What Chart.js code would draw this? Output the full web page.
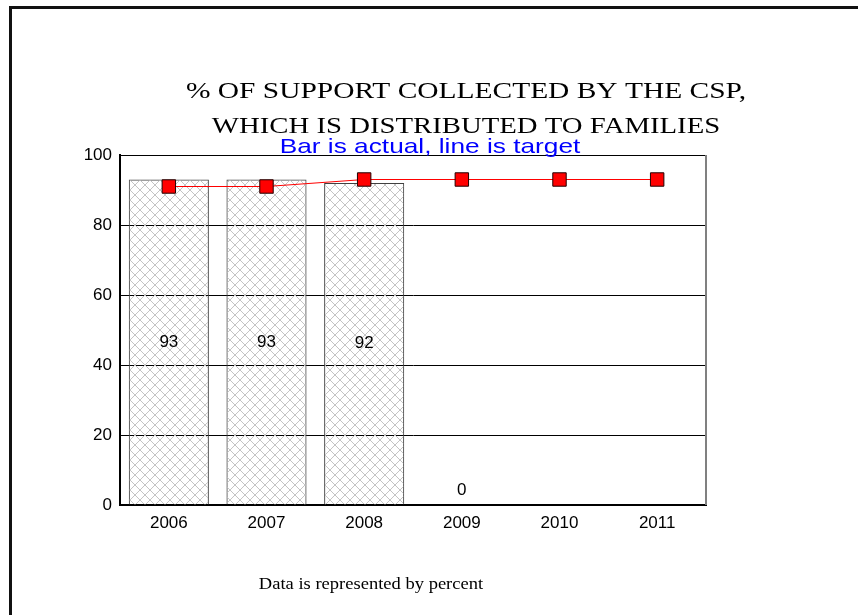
<!DOCTYPE html>
<html>
<head>
<meta charset="utf-8">
<script src="https://cdn.jsdelivr.net/npm/chart.js@4"></script>
<style>
  html, body { margin: 0; padding: 0; background: #fff; }
  #wrap { width: 858px; height: 615px; position: relative; }
</style>
</head>
<body>
<div id="wrap"><canvas id="c" width="858" height="615"></canvas></div>
<script>
// chart data
const years = ['2006', '2007', '2008', '2009', '2010', '2011'];
const actualValues = [93, 93, 92, 0, null, null];
const targetValues = [91, 91, 93, 93, 93, 93];
const yTicks = [0, 20, 40, 60, 80, 100];

const titleLines = ['% OF SUPPORT COLLECTED BY THE CSP,', 'WHICH IS DISTRIBUTED TO FAMILIES'];
const subTitle = 'Bar is actual, line is target';
const footNote = 'Data is represented by percent';

// crosshatch fill for the bars (transparent, so the grid shows through)
function makeHatch() {
    const p = document.createElement('canvas');
    p.width = 10; p.height = 10;
    const g = p.getContext('2d');
    g.strokeStyle = '#c4c4c4';
    g.lineWidth = 1;
    g.beginPath();
    g.moveTo(0, 0); g.lineTo(10, 10);
    g.moveTo(10, 0); g.lineTo(0, 10);
    g.stroke();
    return g.createPattern(p, 'repeat');
}
const ctx = document.getElementById('c').getContext('2d');
const hatch = makeHatch();

// text drawn with a horizontal stretch, like the original slide
function stretchText(c, text, x, y, sx) {
    c.save();
    c.translate(x, y);
    c.scale(sx, 1);
    c.fillText(text, 0, 0);
    c.restore();
}

// frame, titles and value labels
const decor = {
    id: 'decor',
    beforeDraw(chart) {
        const c = chart.ctx;
        c.save();
        c.fillStyle = '#fff';
        c.fillRect(0, 0, chart.width, chart.height);
        c.strokeStyle = '#111';
        c.lineWidth = 3;
        c.beginPath();
        c.moveTo(10.5, 620);
        c.lineTo(10.5, 7.5);
        c.lineTo(860, 7.5);
        c.stroke();
        c.restore();
    },
    afterDatasetsDraw(chart) {
        const c = chart.ctx;
        const a = chart.chartArea;
        c.save();
        // plot frame
        c.strokeStyle = '#000';
        c.lineWidth = 1;
        c.beginPath();
        c.moveTo(a.left, a.top + 0.5);
        c.lineTo(a.right - 0.5, a.top + 0.5);
        c.stroke();
        c.strokeStyle = '#808080';
        c.lineWidth = 2;
        c.beginPath();
        c.moveTo(a.right, a.top);
        c.lineTo(a.right, a.bottom);
        c.stroke();

        // bar value labels
        c.fillStyle = '#000';
        c.font = '17px "Liberation Sans", Arial, sans-serif';
        c.textAlign = 'center';
        c.textBaseline = 'middle';
        const meta = chart.getDatasetMeta(1);
        meta.data.forEach((el, i) => {
            const v = actualValues[i];
            if (v === null) return;
            const y = v > 0 ? (el.y + el.base) / 2 : el.base - 15;
            c.fillText(String(v), el.x, y);
        });

        // titles
        c.font = '23px "Liberation Serif", "Times New Roman", serif';
        stretchText(c, titleLines[0], 466, 92, 1.28);
        stretchText(c, titleLines[1], 466, 127, 1.25);
        c.fillStyle = '#0000ff';
        c.font = '21px "Liberation Sans", Arial, sans-serif';
        stretchText(c, subTitle, 430, 147, 1.25);
        c.fillStyle = '#000';
        c.font = '17px "Liberation Serif", "Times New Roman", serif';
        stretchText(c, footNote, 371, 585, 1.09);
        c.restore();
    }
};

new Chart(ctx, {
    data: {
        labels: years,
        datasets: [
            {
                type: 'line',
                label: 'Target',
                data: targetValues,
                borderColor: '#ff0000',
                borderWidth: 1,
                backgroundColor: '#ff0000',
                pointStyle: 'rect',
                pointRadius: 9.5,
                pointBorderColor: '#200000',
                pointBorderWidth: 1,
                tension: 0,
                order: 0
            },
            {
                type: 'bar',
                label: 'Actual',
                data: actualValues,
                backgroundColor: hatch,
                borderColor: '#404040',
                borderWidth: 1,
                barPercentage: 0.82,
                categoryPercentage: 1,
                order: 1
            }
        ]
    },
    options: {
        responsive: false,
        animation: false,
        layout: { padding: { left: 0, right: 152, top: 155, bottom: 80 } },
        plugins: {
            legend: { display: false },
            title: { display: false },
            tooltip: { enabled: false }
        },
        scales: {
            x: {
                grid: { display: false },
                border: { color: '#000', width: 2 },
                ticks: { color: '#000', font: { family: '"Liberation Sans", Arial, sans-serif', size: 17 }, padding: 0 },
                afterFit(s) { s.height = 30; }
            },
            y: {
                min: 0,
                max: 100,
                afterBuildTicks(s) { s.ticks = yTicks.map(v => ({ value: v })); },
                grid: { color: '#000', lineWidth: 1, drawTicks: false, drawOnChartArea: true },
                border: { color: '#000', width: 2 },
                ticks: { color: '#000', font: { family: '"Liberation Sans", Arial, sans-serif', size: 17 }, padding: 8 },
                afterFit(s) { s.width = 120; }
            }
        }
    },
    plugins: [decor]
});
</script>
</body>
</html>
